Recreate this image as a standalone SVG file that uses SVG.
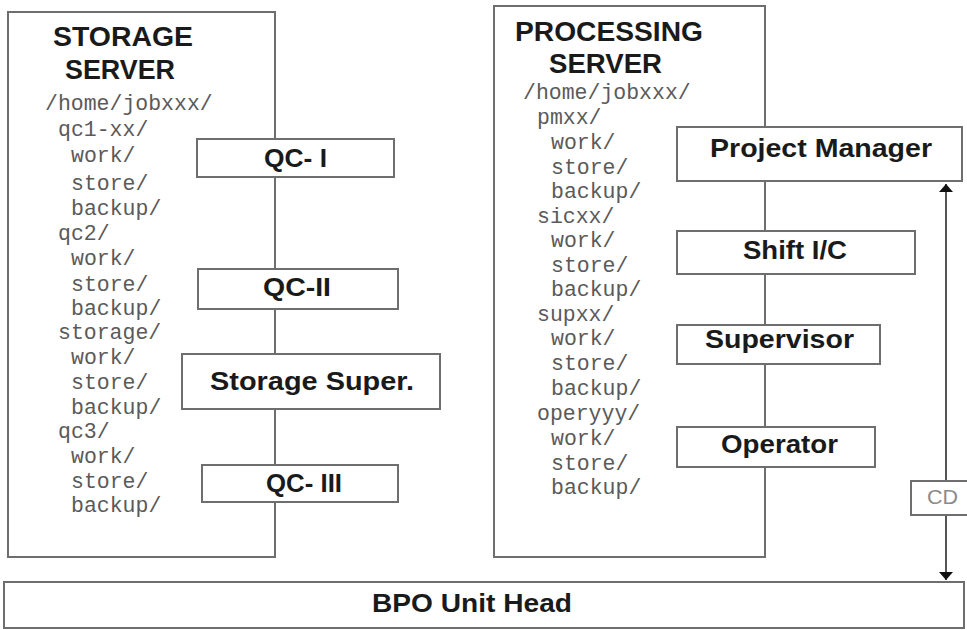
<svg xmlns="http://www.w3.org/2000/svg" width="967" height="630" viewBox="0 0 967 630">
  <style>
    .frame { fill: #ffffff; stroke: #6e6e6e; stroke-width: 2; }
    .box { fill: #ffffff; stroke: #6e6e6e; stroke-width: 2; }
    .title { font-family: "Liberation Sans", Arial, sans-serif; font-weight: bold; font-size: 27px; fill: #1a1a1a; }
    .label { font-family: "Liberation Sans", Arial, sans-serif; font-weight: bold; font-size: 26px; fill: #1a1a1a; }
    .path { font-family: "Liberation Mono", "Courier New", monospace; font-size: 21.5px; fill: #5a5a5a; }
    .cd { font-family: "Liberation Sans", Arial, sans-serif; font-size: 20px; fill: #8a8a8a; }
    .wire { stroke: #555555; stroke-width: 2; fill: none; }
  </style>
  <defs>
    <marker id="arrow" viewBox="0 0 8 14" refX="8" refY="7" markerWidth="8" markerHeight="14" markerUnits="userSpaceOnUse" orient="auto-start-reverse">
      <path d="M0,0 L8,7 L0,14 z" fill="#111111"/>
    </marker>
  </defs>

  <rect width="967" height="630" fill="#ffffff"/>

  <!-- Storage server panel; its right edge carries the QC chain -->
  <g id="storage-server">
    <rect class="frame" x="8" y="12" width="267" height="545"/>
    <text class="title" x="53" y="46" textLength="140" lengthAdjust="spacingAndGlyphs">STORAGE</text>
    <text class="title" x="65" y="79" textLength="110" lengthAdjust="spacingAndGlyphs">SERVER</text>
    <g class="path">
      <text x="45" y="110">/home/jobxxx/</text>
      <text x="58" y="136">qc1-xx/</text>
      <text x="71" y="162">work/</text>
      <text x="71" y="190">store/</text>
      <text x="71" y="215">backup/</text>
      <text x="58" y="240">qc2/</text>
      <text x="71" y="265">work/</text>
      <text x="71" y="291">store/</text>
      <text x="71" y="315">backup/</text>
      <text x="58" y="339">storage/</text>
      <text x="71" y="364">work/</text>
      <text x="71" y="389">store/</text>
      <text x="71" y="414">backup/</text>
      <text x="58" y="438">qc3/</text>
      <text x="71" y="463">work/</text>
      <text x="71" y="488">store/</text>
      <text x="71" y="512">backup/</text>
    </g>
  </g>

  <!-- Processing server panel; its right edge carries the staff chain -->
  <g id="processing-server">
    <rect class="frame" x="494" y="6" width="271" height="551"/>
    <text class="title" x="515" y="41" textLength="188" lengthAdjust="spacingAndGlyphs">PROCESSING</text>
    <text class="title" x="549" y="73" textLength="113" lengthAdjust="spacingAndGlyphs">SERVER</text>
    <g class="path">
      <text x="523" y="99">/home/jobxxx/</text>
      <text x="537" y="124">pmxx/</text>
      <text x="551" y="149">work/</text>
      <text x="551" y="174">store/</text>
      <text x="551" y="198">backup/</text>
      <text x="537" y="223">sicxx/</text>
      <text x="551" y="247">work/</text>
      <text x="551" y="272">store/</text>
      <text x="551" y="296">backup/</text>
      <text x="537" y="321">supxx/</text>
      <text x="551" y="345">work/</text>
      <text x="551" y="370">store/</text>
      <text x="551" y="395">backup/</text>
      <text x="537" y="420">operyyy/</text>
      <text x="551" y="445">work/</text>
      <text x="551" y="470">store/</text>
      <text x="551" y="494">backup/</text>
    </g>
  </g>

  <!-- CD hand-off between project manager and unit head -->
  <g id="connectors">
    <line class="wire" x1="946" y1="184" x2="946" y2="580" marker-start="url(#arrow)" marker-end="url(#arrow)"/>
  </g>

  <g id="qc-1">
    <rect class="box" x="197" y="139" width="197" height="38"/>
    <text class="label" x="264" y="167" textLength="63" lengthAdjust="spacingAndGlyphs">QC- I</text>
  </g>
  <g id="qc-2">
    <rect class="box" x="198" y="269" width="200" height="40"/>
    <text class="label" x="263" y="296" textLength="68" lengthAdjust="spacingAndGlyphs">QC-II</text>
  </g>
  <g id="storage-super">
    <rect class="box" x="182" y="354" width="258" height="55"/>
    <text class="label" x="210" y="390" textLength="204" lengthAdjust="spacingAndGlyphs">Storage Super.</text>
  </g>
  <g id="qc-3">
    <rect class="box" x="202" y="465" width="196" height="37"/>
    <text class="label" x="266" y="492" textLength="76" lengthAdjust="spacingAndGlyphs">QC- III</text>
  </g>

  <g id="project-manager">
    <rect class="box" x="677" y="127" width="285" height="54"/>
    <text class="label" x="710" y="157" textLength="222" lengthAdjust="spacingAndGlyphs">Project Manager</text>
  </g>
  <g id="shift-ic">
    <rect class="box" x="677" y="231" width="238" height="43"/>
    <text class="label" x="743" y="259" textLength="104" lengthAdjust="spacingAndGlyphs">Shift I/C</text>
  </g>
  <g id="supervisor">
    <rect class="box" x="677" y="325" width="203" height="39"/>
    <text class="label" x="705" y="348" textLength="149" lengthAdjust="spacingAndGlyphs">Supervisor</text>
  </g>
  <g id="operator">
    <rect class="box" x="677" y="427" width="198" height="40"/>
    <text class="label" x="721" y="453" textLength="117" lengthAdjust="spacingAndGlyphs">Operator</text>
  </g>

  <g id="cd">
    <rect class="box" x="911" y="481" width="62" height="34"/>
    <text class="cd" x="927" y="504" textLength="31" lengthAdjust="spacingAndGlyphs">CD</text>
  </g>

  <g id="bpo-unit-head">
    <rect class="box" x="4" y="582" width="960" height="46"/>
    <text class="label" x="372" y="612" textLength="200" lengthAdjust="spacingAndGlyphs">BPO Unit Head</text>
  </g>
</svg>
